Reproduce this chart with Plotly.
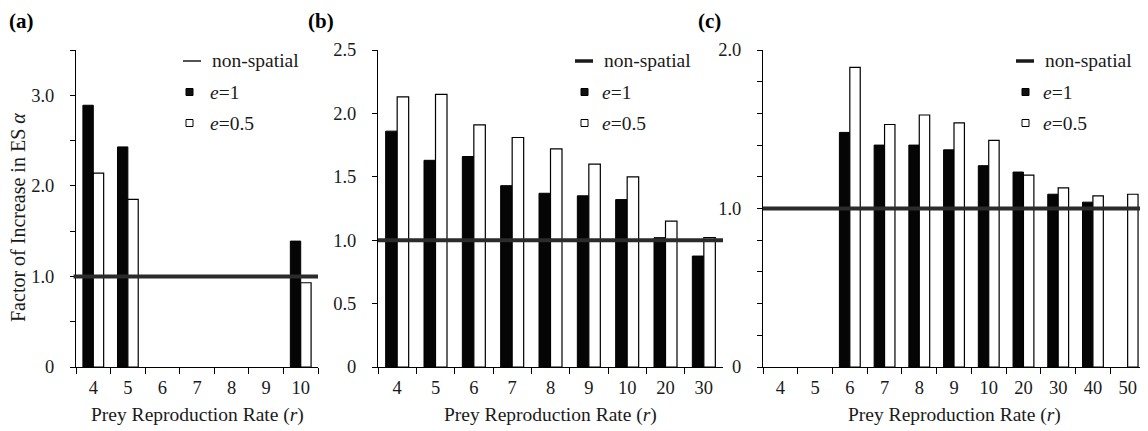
import plotly.graph_objects as go

# ---------------- data ----------------
cats_a = ["4", "5", "6", "7", "8", "9", "10"]
e1_a = [2.89, 2.43, None, None, None, None, 1.39]
e05_a = [2.14, 1.85, None, None, None, None, 0.93]

cats_b = ["4", "5", "6", "7", "8", "9", "10", "20", "30"]
e1_b = [1.86, 1.63, 1.66, 1.43, 1.37, 1.35, 1.32, 1.02, 0.875]
e05_b = [2.13, 2.15, 1.91, 1.81, 1.72, 1.60, 1.50, 1.15, 1.02]

cats_c = ["4", "5", "6", "7", "8", "9", "10", "20", "30", "40", "50"]
e1_c = [None, None, 1.48, 1.40, 1.40, 1.37, 1.27, 1.23, 1.09, 1.04, None]
e05_c = [None, None, 1.89, 1.53, 1.59, 1.54, 1.43, 1.21, 1.13, 1.08, 1.09]

nonspatial = 1.0

ytick_a = [0, 0.5, 1.0, 1.5, 2.0, 2.5, 3.0, 3.5]
ytext_a = ["0", "", "1.0", "", "2.0", "", "3.0", ""]
ytick_b = [0, 0.5, 1.0, 1.5, 2.0, 2.5]
ytext_b = ["0", "0.5", "1.0", "1.5", "2.0", "2.5"]
ytick_c = [0, 0.2, 0.4, 0.6, 0.8, 1.0, 1.2, 1.4, 1.6, 1.8, 2.0]
ytext_c = ["0", "", "", "", "", "1.0", "", "", "", "", "2.0"]

panel_labels = ["(a)", "(b)", "(c)"]
y_title = "Factor of Increase in ES <i>α</i>"
x_title = "Prey Reproduction Rate (<i>r</i>)"
legend_names = ["non-spatial", "<i>e</i>=1", "<i>e</i>=0.5"]

# ---------------- layout helpers ----------------
# The page body has an 8px margin, so the figure is drawn 8px smaller and all
# reference pixel positions are shifted by 8px.
OFF = 8
W, H = 1148 - OFF, 431 - OFF
FONT = "Liberation Serif"
TXT = "#1a1a1a"


def px(x):
    return (x - OFF) / W


def py(y):
    return 1 - (y - OFF) / H


panels = [
    dict(cats=cats_a, e1=e1_a, e05=e05_a, x0=76, x1=318, yr=3.5,
         tv=ytick_a, tt=ytext_a, title_x=8, leg_x=183, thin=True),
    dict(cats=cats_b, e1=e1_b, e05=e05_b, x0=378, x1=723, yr=2.5,
         tv=ytick_b, tt=ytext_b, title_x=307, leg_x=575, thin=False),
    dict(cats=cats_c, e1=e1_c, e05=e05_c, x0=763, x1=1145, yr=2.0,
         tv=ytick_c, tt=ytext_c, title_x=697, leg_x=1016, thin=False),
]

TOP, BOT = 50, 367

fig = go.Figure()
shapes = []
annotations = []
layout = {}

for i, p in enumerate(panels):
    n = "" if i == 0 else str(i + 1)
    xa, ya = "x" + n, "y" + n
    fig.add_trace(go.Bar(x=p["cats"], y=p["e1"], xaxis=xa, yaxis=ya,
                         marker=dict(color="#050505", line=dict(color="#000", width=1)),
                         showlegend=False, name="e=1"))
    fig.add_trace(go.Bar(x=p["cats"], y=p["e05"], xaxis=xa, yaxis=ya,
                         marker=dict(color="#ffffff", line=dict(color="#000", width=1.2)),
                         showlegend=False, name="e=0.5"))
    layout["xaxis" + n] = dict(
        domain=[px(p["x0"]), px(p["x1"])], anchor=ya, type="category",
        categoryorder="array", categoryarray=p["cats"],
        showline=True, linecolor="#000", linewidth=1, mirror=False,
        ticks="outside", ticklen=6, tickcolor="#000", tickwidth=1,
        tickson="boundaries", showgrid=False, zeroline=False, automargin=False,
        tickfont=dict(family=FONT, size=18.5, color=TXT), ticklabelstandoff=4,
    )
    layout["yaxis" + n] = dict(
        domain=[py(BOT), py(TOP)], anchor=xa, range=[0, p["yr"]],
        tickmode="array", tickvals=p["tv"], ticktext=p["tt"],
        showline=True, linecolor="#000", linewidth=1, automargin=False,
        ticks="outside", ticklen=5, tickcolor="#000", tickwidth=1,
        showgrid=False, zeroline=False,
        tickfont=dict(family=FONT, size=18.5, color=TXT), ticklabelstandoff=12,
    )
    # non-spatial reference line
    shapes.append(dict(type="line", xref=xa + " domain", yref=ya,
                       x0=-0.01 if i == 0 else 0, x1=1, y0=nonspatial, y1=nonspatial,
                       line=dict(color="#2b2b2b", width=4), layer="above"))
    # panel label (anchored to the top edge so it is not clipped)
    annotations.append(dict(text="<b>%s</b>" % panel_labels[i], xref="paper", yref="paper",
                            x=px(p["title_x"]), y=1.0, xanchor="left", yanchor="top",
                            borderpad=0, showarrow=False,
                            font=dict(family=FONT, size=21, color="#000")))
    # x title
    annotations.append(dict(text=x_title, xref="paper", yref="paper",
                            x=px((p["x0"] + p["x1"]) / 2), y=py(415), xanchor="center",
                            yanchor="middle", showarrow=False,
                            font=dict(family=FONT, size=19.5, color=TXT)))
    # custom legend
    lx = p["leg_x"]
    shapes.append(dict(type="line", xref="paper", yref="paper",
                       x0=px(lx), x1=px(lx + 18), y0=py(61), y1=py(61),
                       line=dict(color="#1a1a1a", width=1.5 if p["thin"] else 3.5)))
    sq_x = lx + 3 if p["thin"] else lx + 6
    for yy, fill in [(92, "#111"), (123, "#fff")]:
        shapes.append(dict(type="rect", xref="paper", yref="paper",
                           x0=px(sq_x), x1=px(sq_x + 7), y0=py(yy + 3.5), y1=py(yy - 3.5),
                           fillcolor=fill, line=dict(color="#000", width=1)))
    for k, yy in enumerate([61, 92, 123]):
        tx = lx + 27 if k == 0 else lx + 25
        annotations.append(dict(text=legend_names[k], xref="paper", yref="paper",
                                x=px(tx), y=py(yy), xanchor="left", yanchor="middle",
                                showarrow=False, font=dict(family=FONT, size=19.5, color=TXT)))

# y title (panel a)
annotations.append(dict(text=y_title, xref="paper", yref="paper", x=px(18), y=py(218),
                        xanchor="center", yanchor="middle", textangle=-90, showarrow=False,
                        font=dict(family=FONT, size=20, color=TXT)))

fig.update_layout(
    width=W, height=H, margin=dict(l=0, r=0, t=0, b=0, pad=0, autoexpand=False),
    paper_bgcolor="white", plot_bgcolor="white",
    barmode="group", bargap=0.4, bargroupgap=0.0,
    shapes=shapes, annotations=annotations, showlegend=False,
    **layout,
)

fig.write_html("out.html")
